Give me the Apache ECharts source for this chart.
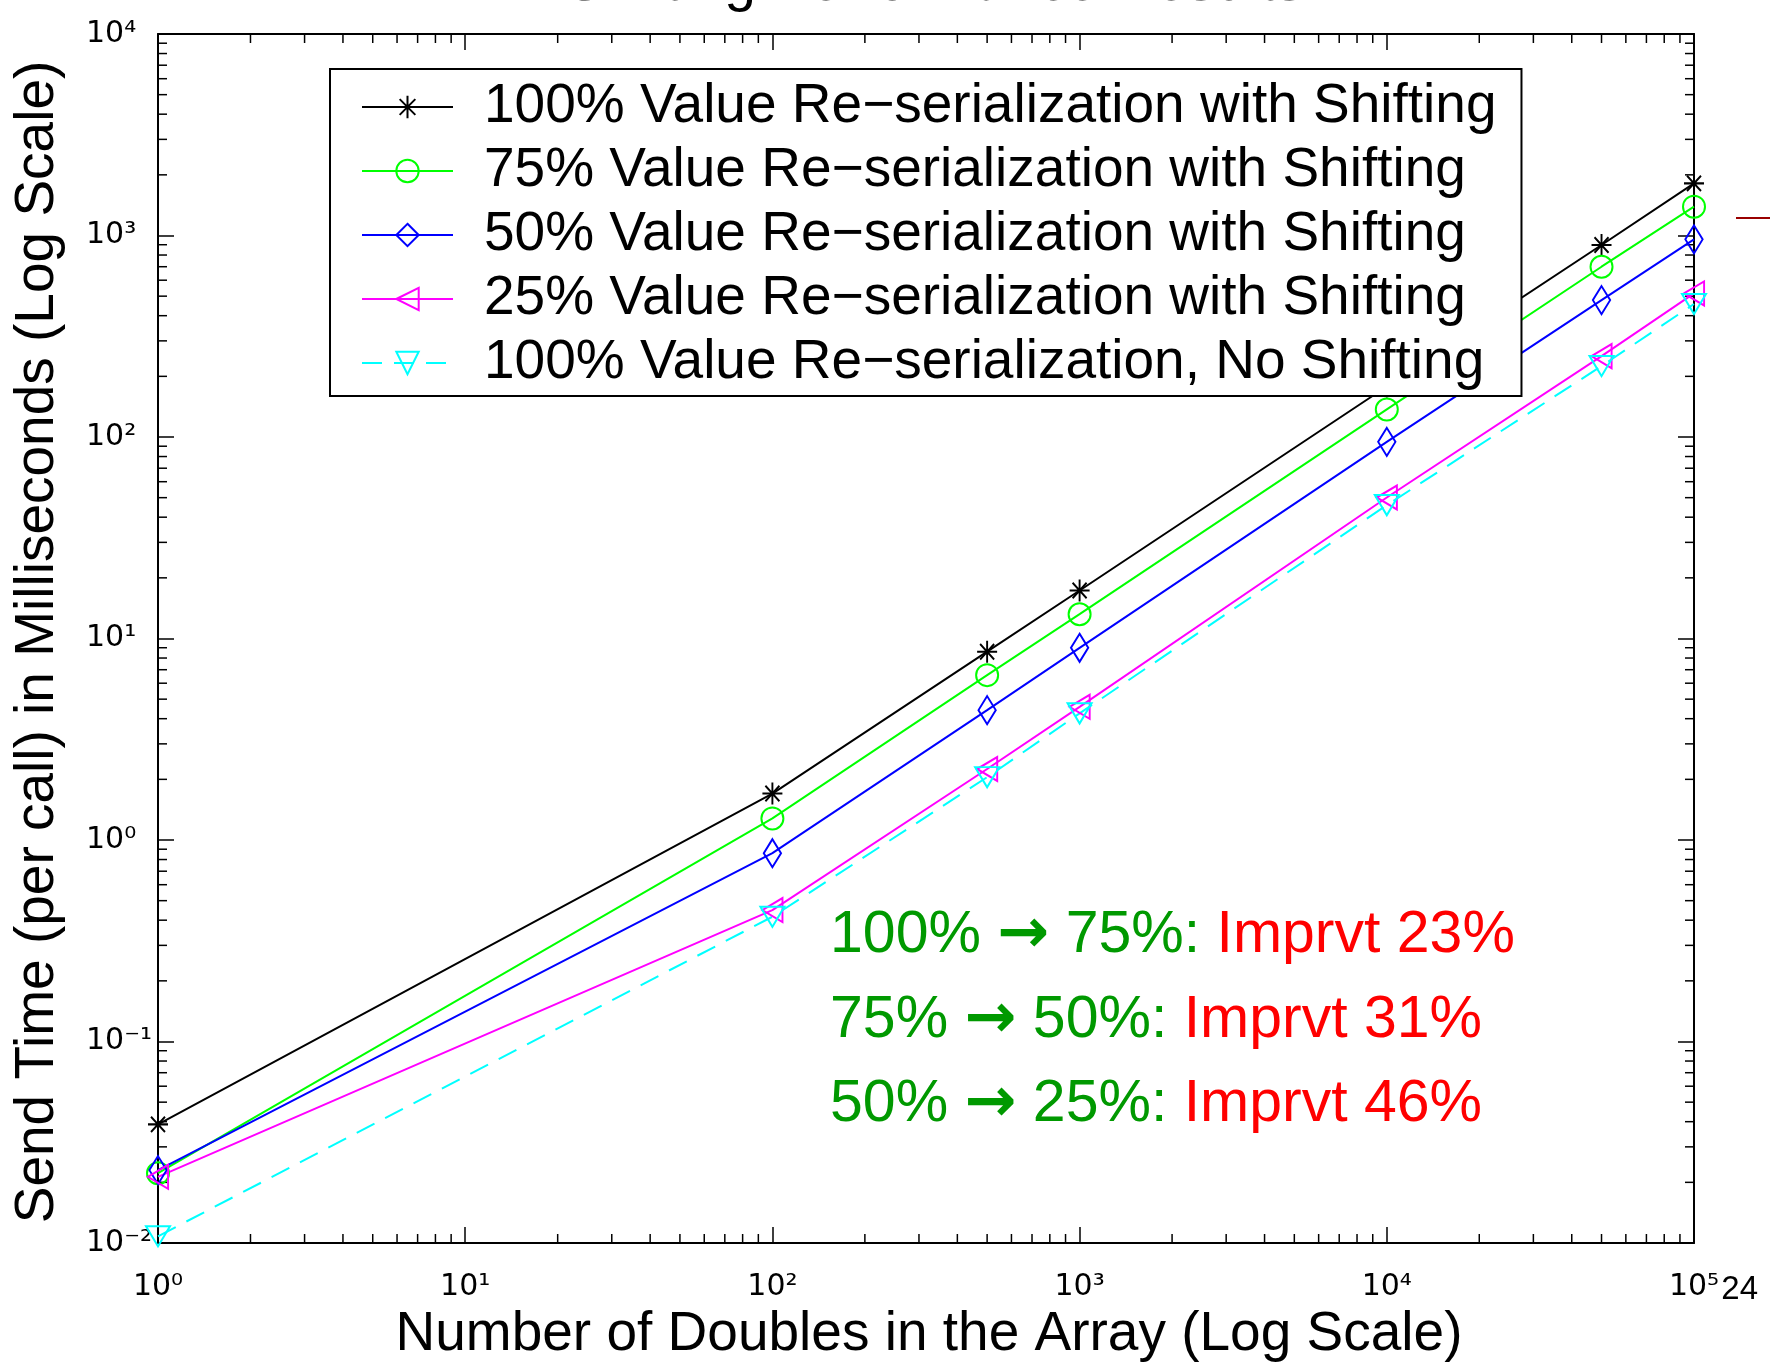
<!DOCTYPE html>
<html>
<head>
<meta charset="utf-8">
<script src="https://cdn.jsdelivr.net/npm/echarts@6/dist/echarts.min.js"></script>
<style>
html,body{margin:0;padding:0;background:#fff;}
#chart{width:1770px;height:1362px;}
</style>
</head>
<body>
<div id="chart"></div>
<script>
// ---------- text ----------
const titleText = 'Shifting Performance Results';
const xAxisTitle = 'Number of Doubles in the Array (Log Scale)';
const yAxisTitle = 'Send Time (per call) in Milliseconds (Log Scale)';
const slideNumber = '24';

// ---------- data ----------
const arraySizes = [1, 100, 500, 1000, 10000, 50000, 100000];
const seriesNames = [
  '100% Value Re\u2212serialization with Shifting',
  '75% Value Re\u2212serialization with Shifting',
  '50% Value Re\u2212serialization with Shifting',
  '25% Value Re\u2212serialization with Shifting',
  '100% Value Re\u2212serialization, No Shifting'
];
const reser100Shift = [0.0388, 1.70, 8.6, 17.3, 178, 897, 1815];
const reser75Shift  = [0.0222, 1.28, 6.58, 13.2, 137, 700, 1390];
const reser50Shift  = [0.0230, 0.86, 4.41, 8.99, 94.6, 478, 957];
const reser25Shift  = [0.0213, 0.449, 2.25, 4.58, 50.1, 252, 516];
const reser100NoShift = [0.0108, 0.416, 2.05, 4.25, 45.9, 225, 457];

// ---------- axes ----------
const xMin = 1, xMax = 100000;
const yMin = 0.01, yMax = 10000;
const minorMultipliers = [2, 3, 4, 5, 6, 7, 8, 9];
const xDecades = [1, 10, 100, 1000, 10000];
const yDecades = [0.01, 0.1, 1, 10, 100, 1000];
const superscriptDigits = ['\u2070', '\u00b9', '\u00b2', '\u00b3', '\u2074', '\u2075', '\u2076', '\u2077', '\u2078', '\u2079'];

// ---------- annotations ----------
const annotationRows = [
  ['100%', '75%', 'Imprvt 23%'],
  ['75%', '50%', 'Imprvt 31%'],
  ['50%', '25%', 'Imprvt 46%']
];

const FONT = '"Liberation Sans", Arial, Helvetica, sans-serif';
const TICKFONT = '"DejaVu Sans", "Liberation Sans", sans-serif';

const SYM_ASTERISK = 'path://M10 0L10 20M0 10L20 10M3 3L17 17M3 17L17 3';
const SYM_CIRCLE = 'path://M0 10A10 10 0 1 0 20 10A10 10 0 1 0 0 10Z';
const SYM_DIAMOND = 'path://M11 0L22 14L11 28L0 14Z';
const SYM_LEFTTRI = 'path://M0 12L22 0L22 24Z';
const SYM_DOWNTRI = 'path://M0 0L24 0L12 22Z';

const seriesDefs = [
  {name: seriesNames[0], values: reser100Shift, color: '#000000', symbol: SYM_ASTERISK, size: [20, 22], dashed: false},
  {name: seriesNames[1], values: reser75Shift, color: '#00ff00', symbol: SYM_CIRCLE, size: [22, 22], dashed: false},
  {name: seriesNames[2], values: reser50Shift, color: '#0000ff', symbol: SYM_DIAMOND, size: [22, 28], dashed: false},
  {name: seriesNames[3], values: reser25Shift, color: '#ff00ff', symbol: SYM_LEFTTRI, size: [22, 24], dashed: false},
  {name: seriesNames[4], values: reser100NoShift, color: '#00ffff', symbol: SYM_DOWNTRI, size: [24, 22], dashed: true}
];

function minorValues(decades) {
  const out = [];
  decades.forEach(d => minorMultipliers.forEach(m => out.push(+(m * d).toPrecision(6))));
  return out;
}

function tickLabel(v) {
  const p = Math.round(Math.log10(v));
  let s = (p < 0 ? '\u207b' : '');
  String(Math.abs(p)).split('').forEach(ch => { s += superscriptDigits[+ch]; });
  return '10' + s;
}

const chart = echarts.init(document.getElementById('chart'), null, {renderer: 'canvas'});

const lineSeries = seriesDefs.map(d => ({
  type: 'line',
  name: d.name,
  xAxisIndex: 0,
  yAxisIndex: 0,
  data: arraySizes.map((x, i) => [x, d.values[i]]),
  symbol: d.symbol,
  symbolSize: d.size,
  symbolKeepAspect: true,
  showAllSymbol: true,
  lineStyle: {color: d.color, width: 2, type: d.dashed ? [20, 12] : 'solid'},
  itemStyle: {color: 'rgba(0,0,0,0)', borderColor: d.color, borderWidth: 2},
  emphasis: {disabled: true},
  z: 3
}));

const minorTickStyle = {stroke: '#000', lineWidth: 1.5};
const xMinorSeries = {
  type: 'custom',
  name: 'xMinorTicks',
  silent: true,
  clip: false,
  xAxisIndex: 0,
  yAxisIndex: 0,
  z: 1,
  data: minorValues(xDecades).map(v => [v, 1]),
  renderItem: function (params, api) {
    const cs = params.coordSys;
    const x = api.coord([api.value(0), 1])[0];
    const yb = cs.y + cs.height, yt = cs.y;
    return {type: 'group', children: [
      {type: 'line', shape: {x1: x, y1: yb, x2: x, y2: yb - 9}, style: minorTickStyle},
      {type: 'line', shape: {x1: x, y1: yt, x2: x, y2: yt + 9}, style: minorTickStyle}
    ]};
  }
};
const yMinorSeries = {
  type: 'custom',
  name: 'yMinorTicks',
  silent: true,
  clip: false,
  xAxisIndex: 0,
  yAxisIndex: 0,
  z: 1,
  data: minorValues(yDecades).map(v => [10, v]),
  renderItem: function (params, api) {
    const cs = params.coordSys;
    const y = api.coord([10, api.value(1)])[1];
    const xl = cs.x, xr = cs.x + cs.width;
    return {type: 'group', children: [
      {type: 'line', shape: {x1: xl, y1: y, x2: xl + 9, y2: y}, style: minorTickStyle},
      {type: 'line', shape: {x1: xr, y1: y, x2: xr - 9, y2: y}, style: minorTickStyle}
    ]};
  }
};

const axisLineStyle = {color: '#000', width: 2};
const majorTick = {show: true, inside: true, length: 16, lineStyle: {color: '#000', width: 1.5}};

const annotationGraphics = annotationRows.map((r, i) => ({
  type: 'text',
  x: 830,
  y: 936 + i * 84.5,
  z: 10,
  style: {
    text: '{g|' + r[0] + ' }{a|\u2192}{g| ' + r[1] + ':} {r|' + r[2] + '}',
    align: 'left',
    verticalAlign: 'middle',
    rich: {
      g: {fontSize: 59, fontFamily: FONT, fill: '#009900', lineHeight: 72},
      a: {fontSize: 62, fontFamily: '"DejaVu Sans", sans-serif', fontWeight: 'bold', fill: '#009900', lineHeight: 72},
      r: {fontSize: 59, fontFamily: FONT, fill: '#ff0000', lineHeight: 72}
    },
    fontSize: 59,
    fontFamily: FONT
  }
}));

const option = {
  animation: false,
  backgroundColor: '#ffffff',
  grid: {left: 158, right: 76, top: 34, bottom: 119, containLabel: false, outerBoundsMode: 'none'},
  legend: {
    data: seriesNames,
    orient: 'vertical',
    left: 330,
    top: 69,
    padding: [8, 25, 3, 31],
    itemGap: 4,
    itemWidth: 91,
    itemHeight: 28,
    selectedMode: false,
    backgroundColor: '#ffffff',
    borderColor: '#000000',
    borderWidth: 2,
    borderRadius: 0,
    textStyle: {fontSize: 55, lineHeight: 60, fontFamily: FONT, color: '#000', padding: [0, 0, 0, 26]},
    z: 6
  },
  xAxis: [
    {
      type: 'log', logBase: 10, min: xMin, max: xMax, position: 'bottom',
      axisLine: {show: true, lineStyle: axisLineStyle},
      axisTick: majorTick,
      splitLine: {show: false},
      axisLabel: {margin: 27, fontSize: 30, lineHeight: 34, fontFamily: TICKFONT, color: '#000', formatter: tickLabel}
    },
    {
      type: 'log', logBase: 10, min: xMin, max: xMax, position: 'top',
      axisLine: {show: true, lineStyle: axisLineStyle},
      axisTick: majorTick,
      splitLine: {show: false},
      axisLabel: {show: false}
    }
  ],
  yAxis: [
    {
      type: 'log', logBase: 10, min: yMin, max: yMax, position: 'left',
      axisLine: {show: true, lineStyle: axisLineStyle},
      axisTick: majorTick,
      splitLine: {show: false},
      axisLabel: {margin: 72, align: 'left', fontSize: 30, lineHeight: 34, fontFamily: TICKFONT, color: '#000', formatter: tickLabel}
    },
    {
      type: 'log', logBase: 10, min: yMin, max: yMax, position: 'right',
      axisLine: {show: true, lineStyle: axisLineStyle},
      axisTick: majorTick,
      splitLine: {show: false},
      axisLabel: {show: false}
    }
  ],
  series: lineSeries.concat([xMinorSeries, yMinorSeries]),
  graphic: [
    {type: 'text', x: 935, y: -16, z: 10,
     style: {text: titleText, fontSize: 57, fontFamily: FONT, fill: '#000', align: 'center', verticalAlign: 'middle'}},
    {type: 'text', x: 38, y: 642, rotation: Math.PI / 2, z: 10,
     style: {text: yAxisTitle, fontSize: 55, fontFamily: FONT, fill: '#000', align: 'center', verticalAlign: 'middle'}},
    {type: 'text', x: 929, y: 1335, z: 10,
     style: {text: xAxisTitle, fontSize: 55, fontFamily: FONT, fill: '#000', align: 'center', verticalAlign: 'middle'}},
    {type: 'line', z: 10, shape: {x1: 1736, y1: 218, x2: 1770, y2: 218}, style: {stroke: '#990000', lineWidth: 2}},
    {type: 'text', x: 1758, y: 1290, z: 0,
     style: {text: slideNumber, fontSize: 33, fontFamily: FONT, fill: '#000', align: 'right', verticalAlign: 'middle'}}
  ].concat(annotationGraphics)
};

chart.setOption(option);
</script>
</body>
</html>
